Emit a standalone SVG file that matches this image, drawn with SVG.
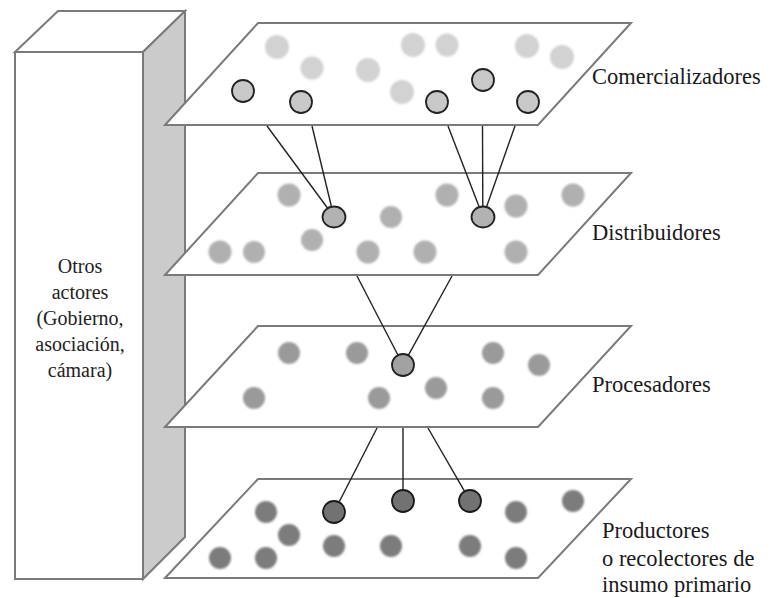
<svg xmlns="http://www.w3.org/2000/svg" width="772" height="598" viewBox="0 0 772 598">
<defs>
<filter id="soft" x="-30%" y="-30%" width="160%" height="160%"><feGaussianBlur stdDeviation="1"/></filter>
<style>
.edge{fill:#fff;stroke:#7a7a7a;stroke-width:2;stroke-linejoin:miter}
.side{fill:#cbcbcb;stroke:#7a7a7a;stroke-width:2}
text{font-family:'Liberation Serif','Times New Roman','DejaVu Serif',serif}
.lbl{font-size:22.5px;fill:#1a1a1a}
.box{font-size:20px;fill:#222;text-anchor:middle}
.c1{fill:#d2d2d2;filter:url(#soft)}
.c2{fill:#b0b0b0;filter:url(#soft)}
.c3{fill:#9a9a9a;filter:url(#soft)}
.c4{fill:#7b7b7b;filter:url(#soft)}
.o1{fill:#c8c8c8;stroke:#222;stroke-width:1.8}
.o2{fill:#b2b2b2;stroke:#222;stroke-width:1.8}
.o3{fill:#a2a2a2;stroke:#222;stroke-width:1.8}
.o4{fill:#727272;stroke:#1a1a1a;stroke-width:1.8}
.ln{stroke:#222;stroke-width:1.4;fill:none}
</style>
</defs>
<rect width="772" height="598" fill="#fff"/>
<g id="otros-actores" font-family="Liberation Serif, serif">
<polygon class="edge" points="15,52 58,11 185,11 143,52"/>
<polygon class="side" points="143,52 185,11 185,537 143,579"/>
<rect class="edge" x="15" y="52" width="128" height="527"/>
<text class="box" x="80" y="273">Otros</text>
<text class="box" x="80" y="299">actores</text>
<text class="box" x="80" y="325">(Gobierno,</text>
<text class="box" x="80" y="351">asociación,</text>
<text class="box" x="80" y="377">cámara)</text>
</g>
<g id="productores" font-family="Liberation Serif, serif">
<polygon class="edge" points="165,578 258,479 631,479 538,578"/>
<circle class="c4" cx="266" cy="512" r="11"/>
<circle class="c4" cx="289" cy="535" r="11"/>
<circle class="c4" cx="220" cy="558" r="11"/>
<circle class="c4" cx="266" cy="558" r="11"/>
<circle class="c4" cx="334" cy="546" r="11"/>
<circle class="c4" cx="391" cy="546" r="11"/>
<circle class="c4" cx="470" cy="546" r="11"/>
<circle class="c4" cx="516" cy="512" r="11"/>
<circle class="c4" cx="573" cy="501" r="11"/>
<circle class="c4" cx="516" cy="558" r="11"/>
<circle class="o4" cx="334" cy="512" r="11"/>
<circle class="o4" cx="403" cy="501" r="11"/>
<circle class="o4" cx="470" cy="501" r="11"/>
<text class="lbl" x="602" y="538">Productores</text>
<text class="lbl" x="602" y="566">o recolectores de</text>
<text class="lbl" x="602" y="592">insumo primario</text>
</g>
<g id="procesadores" font-family="Liberation Serif, serif">
<polygon class="edge" points="165,427 258,326 631,326 538,427"/>
<circle class="c3" cx="289" cy="353" r="11"/>
<circle class="c3" cx="357" cy="353" r="11"/>
<circle class="c3" cx="493" cy="353" r="11"/>
<circle class="c3" cx="539" cy="365" r="11"/>
<circle class="c3" cx="254" cy="398" r="11"/>
<circle class="c3" cx="379" cy="398" r="11"/>
<circle class="c3" cx="436" cy="388" r="11"/>
<circle class="c3" cx="493" cy="398" r="11"/>
<circle class="o3" cx="403" cy="365" r="11"/>
<text class="lbl" x="592" y="392">Procesadores</text>
</g>
<g id="distribuidores" font-family="Liberation Serif, serif">
<polygon class="edge" points="165,275 258,173 631,173 538,275"/>
<circle class="c2" cx="289" cy="195" r="11.5"/>
<circle class="c2" cx="447" cy="195" r="11.5"/>
<circle class="c2" cx="516" cy="206" r="11.5"/>
<circle class="c2" cx="573" cy="195" r="11.5"/>
<circle class="c2" cx="391" cy="217" r="11"/>
<circle class="c2" cx="312" cy="240" r="11"/>
<circle class="c2" cx="220" cy="252" r="11.5"/>
<circle class="c2" cx="254" cy="252" r="11"/>
<circle class="c2" cx="368" cy="252" r="11.5"/>
<circle class="c2" cx="425" cy="252" r="11.5"/>
<circle class="c2" cx="516" cy="252" r="11.5"/>
<ellipse class="o2" cx="334" cy="217" rx="11.5" ry="10.5"/>
<ellipse class="o2" cx="483" cy="217" rx="11.5" ry="10.5"/>
<text class="lbl" x="592" y="240">Distribuidores</text>
</g>
<g id="comercializadores" font-family="Liberation Serif, serif">
<polygon class="edge" points="165,125 258,23 631,23 538,125"/>
<circle class="c1" cx="277" cy="47" r="12"/>
<circle class="c1" cx="312" cy="68" r="11.5"/>
<circle class="c1" cx="368" cy="70" r="12"/>
<circle class="c1" cx="413" cy="45" r="12"/>
<circle class="c1" cx="447" cy="45" r="11.5"/>
<circle class="c1" cx="402" cy="92" r="12"/>
<circle class="c1" cx="527" cy="46" r="12"/>
<circle class="c1" cx="562" cy="57" r="12"/>
<circle class="o1" cx="243" cy="91" r="11"/>
<circle class="o1" cx="301" cy="102" r="11"/>
<circle class="o1" cx="437" cy="102" r="11"/>
<circle class="o1" cx="483" cy="80" r="11"/>
<circle class="o1" cx="528" cy="102" r="11"/>
<text class="lbl" x="592" y="84">Comercializadores</text>
</g>
<g id="connectors">
<line class="ln" x1="267" y1="126" x2="327.5" y2="208"/>
<line class="ln" x1="312" y1="126" x2="331.4" y2="206.5"/>
<line class="ln" x1="448" y1="126" x2="479.1" y2="206.7"/>
<line class="ln" x1="482.5" y1="126" x2="482.8" y2="206.5"/>
<line class="ln" x1="515" y1="126" x2="486.6" y2="206.7"/>
<line class="ln" x1="357" y1="276" x2="398" y2="355.2"/>
<line class="ln" x1="452" y1="276" x2="408.3" y2="355.3"/>
<line class="ln" x1="377" y1="428" x2="339" y2="502.2"/>
<line class="ln" x1="403" y1="428" x2="403" y2="490"/>
<line class="ln" x1="428" y1="428" x2="464.6" y2="491.4"/>
</g>
</svg>
